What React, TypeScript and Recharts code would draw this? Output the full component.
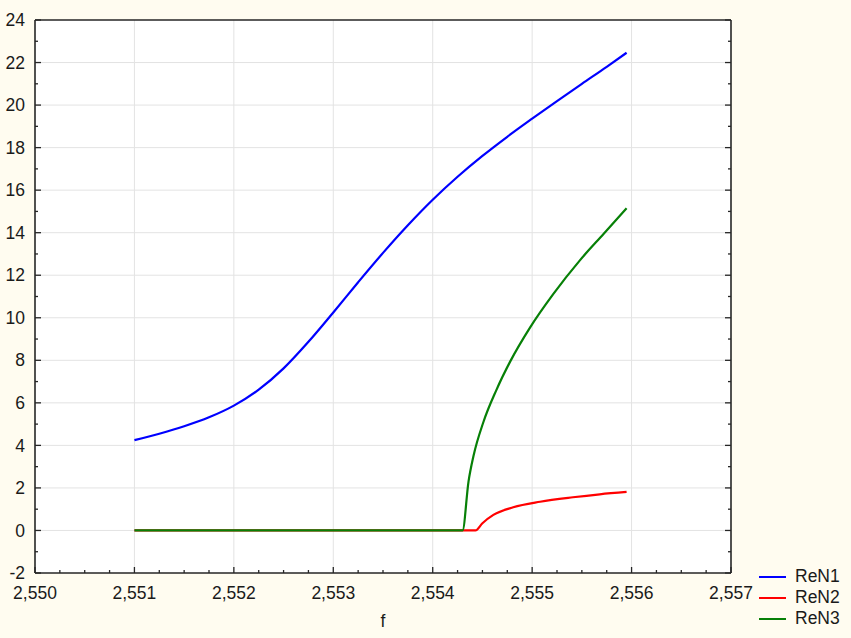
import { LineChart, Line, XAxis, YAxis, CartesianGrid, ReferenceLine, Legend } from "recharts";

const fReN1 = [2.551, 2.55125, 2.5515, 2.55175, 2.552, 2.55225, 2.5525, 2.55275, 2.553, 2.55325, 2.5535, 2.55375, 2.554, 2.55425, 2.5545, 2.55475, 2.555, 2.55525, 2.5555, 2.55575, 2.55595];
const reN1 = [4.25, 4.55, 4.9, 5.32, 5.87, 6.62, 7.62, 8.87, 10.25, 11.67, 13.05, 14.35, 15.55, 16.63, 17.61, 18.51, 19.36, 20.19, 21.0, 21.8, 22.46];

const fReN2 = [2.551, 2.5543, 2.55443, 2.5545, 2.55461, 2.55481, 2.55508, 2.55541, 2.55568, 2.55595];
const reN2 = [0, 0, 0, 0.34, 0.73, 1.09, 1.35, 1.56, 1.7, 1.81];

const fReN3 = [2.551, 2.5543, 2.55436, 2.55441, 2.55451, 2.55464, 2.55478, 2.55498, 2.55521, 2.55548, 2.55572, 2.55595];
const reN3 = [0, 0, 2.3, 3.5, 5.1, 6.6, 7.95, 9.55, 11.1, 12.7, 13.95, 15.15];

const xMajor = [2.55, 2.551, 2.552, 2.553, 2.554, 2.555, 2.556, 2.557];
const yMajor = [-2, 0, 2, 4, 6, 8, 10, 12, 14, 16, 18, 20, 22, 24];

const toRows = (fs: number[], vs: number[]) => fs.map((f, i) => ({ f, v: vs[i] }));

// minor ticks: 4 steps per major on x, 2 on y
const xTicks: number[] = [];
xMajor.forEach((t, i) => {
  if (i === 0) { xTicks.push(t); return; }
  const prev = xMajor[i - 1];
  for (let k = 1; k <= 4; k++) xTicks.push(+(prev + ((t - prev) * k) / 4).toFixed(5));
});
const yTicks: number[] = [];
yMajor.forEach((t, i) => {
  if (i === 0) { yTicks.push(t); return; }
  yTicks.push(t - 1, t);
});

const isMajorX = (v: number) => xMajor.some((m) => Math.abs(m - v) < 1e-7);
const isMajorY = (v: number) => yMajor.includes(v);

const FONT = "'Liberation Sans', Arial, sans-serif";
const BG = "#fffcf0";
const AXIS = "#262626";
const FS = 17.5;

const fmtX = (v: number) => v.toFixed(3).replace(".", ",");

function XTick(props: any) {
  const { x, y, payload, side } = props;
  const major = isMajorX(payload.value);
  const len = major ? 6 : 3;
  const dir = side === "bottom" ? -1 : 1;
  return (
    <g>
      <line x1={x} y1={y} x2={x} y2={y + dir * len} stroke={AXIS} strokeWidth={1.3} />
      {side === "bottom" && major && (
        <text x={x} y={y + 26} textAnchor="middle" fontSize={FS} fill="#1a1a1a" fontFamily={FONT}>
          {fmtX(payload.value)}
        </text>
      )}
    </g>
  );
}

function YTick(props: any) {
  const { x, y, payload, side } = props;
  const major = isMajorY(payload.value);
  const len = major ? 6 : 3;
  const dir = side === "left" ? 1 : -1;
  return (
    <g>
      <line x1={x} y1={y} x2={x + dir * len} y2={y} stroke={AXIS} strokeWidth={1.3} />
      {side === "left" && major && (
        <text x={x - 10} y={y} dy="0.35em" textAnchor="end" fontSize={FS} fill="#1a1a1a" fontFamily={FONT}>
          {payload.value}
        </text>
      )}
    </g>
  );
}

function LegendBox(props: any) {
  const { payload } = props;
  return (
    <div style={{ fontFamily: FONT, fontSize: FS, color: "#1a1a1a" }}>
      {(payload || []).map((p: any) => (
        <div key={p.value} style={{ display: "flex", alignItems: "center", height: 21 }}>
          <span style={{ display: "inline-block", width: 27, height: 2, background: p.color, marginRight: 9 }} />
          <span>{p.value}</span>
        </div>
      ))}
    </div>
  );
}

export default function App() {
  return (
    <div style={{ position: "absolute", left: 0, top: 0, width: 851, height: 638, background: BG }}>
      <LineChart width={851} height={638} margin={{ top: 19, right: 119, bottom: 64, left: 34 }}>
        <CartesianGrid horizontal={false} vertical={false} fill="#ffffff" />
        {xMajor.slice(1, -1).map((t) => (
          <ReferenceLine key={"gx" + t} x={t} stroke="#e3e3e3" strokeWidth={1} />
        ))}
        {yMajor.slice(1, -1).map((t) => (
          <ReferenceLine key={"gy" + t} y={t} stroke="#e3e3e3" strokeWidth={1} />
        ))}
        <XAxis
          dataKey="f"
          type="number"
          domain={[2.55, 2.557]}
          ticks={xTicks}
          interval={0}
          height={1}
          tickSize={0}
          tickMargin={0}
          axisLine={{ stroke: AXIS, strokeWidth: 1.6 }}
          tick={<XTick side="bottom" />}
          label={{ value: "f", position: "bottom", offset: 41, fontSize: FS, fill: "#1a1a1a", fontFamily: FONT }}
          allowDataOverflow
        />
        <XAxis
          xAxisId="top"
          orientation="top"
          type="number"
          domain={[2.55, 2.557]}
          ticks={xTicks}
          interval={0}
          height={1}
          tickSize={0}
          tickMargin={0}
          axisLine={{ stroke: AXIS, strokeWidth: 1.6 }}
          tick={<XTick side="top" />}
          allowDataOverflow
        />
        <YAxis
          type="number"
          domain={[-2, 24]}
          ticks={yTicks}
          interval={0}
          width={1}
          tickSize={0}
          tickMargin={0}
          axisLine={{ stroke: AXIS, strokeWidth: 1.6 }}
          tick={<YTick side="left" />}
          allowDataOverflow
        />
        <YAxis
          yAxisId="right"
          orientation="right"
          type="number"
          domain={[-2, 24]}
          ticks={yTicks}
          interval={0}
          width={1}
          tickSize={0}
          tickMargin={0}
          axisLine={{ stroke: AXIS, strokeWidth: 1.6 }}
          tick={<YTick side="right" />}
          allowDataOverflow
        />
        <Line data={toRows(fReN1, reN1)} dataKey="v" name="ReN1" type="monotone" stroke="#0000ff" strokeWidth={2.2} dot={false} isAnimationActive={false} />
        <Line data={toRows(fReN2, reN2)} dataKey="v" name="ReN2" type="monotone" stroke="#ff0000" strokeWidth={2.2} dot={false} isAnimationActive={false} />
        <Line data={toRows(fReN3, reN3)} dataKey="v" name="ReN3" type="monotone" stroke="#078007" strokeWidth={2.2} dot={false} isAnimationActive={false} />
        <Legend
          layout="vertical"
          align="center"
          verticalAlign="middle"
          content={<LegendBox />}
          wrapperStyle={{ left: 759, top: 566, width: 90 }}
        />
      </LineChart>
    </div>
  );
}
